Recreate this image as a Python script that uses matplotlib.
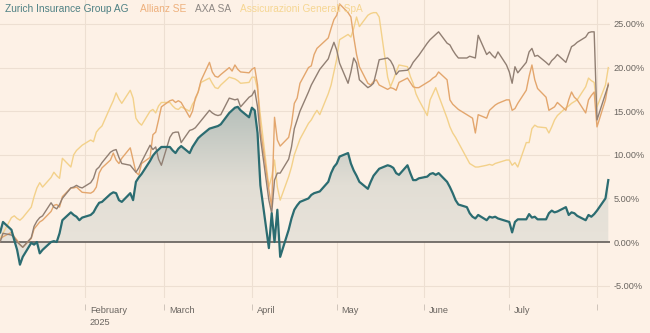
import numpy as np
import pandas as pd
import matplotlib
matplotlib.use("Agg")
import matplotlib.pyplot as plt
import matplotlib.dates as mdates
from matplotlib.colors import LinearSegmentedColormap

plt.rcParams["font.family"] = ["Liberation Sans", "DejaVu Sans"]

# trading days Jan 2 - Aug 5 2025, performance in % since start of year
dates = pd.bdate_range("2025-01-02", "2025-08-05")

zurich = [
    1.1, 2.3, 1.4, 0.2, -0.9, -2.6, -1.7, -0.1, -0.3, 0.0, -1.3, -0.9, 0.0, 0.1, 0.0, 1.0, 2.5, 3.4, 3.1, 2.9, 2.5, 2.8,
    3.1, 3.4, 4.0, 4.5, 4.6, 5.5, 5.7, 5.6, 4.8, 4.6, 5.6, 4.8, 6.9, 7.4, 7.8, 9.3, 9.9, 10.3, 10.6, 10.9,
    10.9, 10.5, 10.2, 10.7, 11.0, 10.2, 10.9, 11.4, 11.9, 12.2, 13.0, 13.1, 13.2, 13.3, 13.5, 14.8, 15.1, 15.4, 15.5, 15.1, 14.3,
    15.4, 15.1, 12.5, 6.5, -0.7, 3.3, 0.0, 3.7, -1.7, 1.4, 2.7, 3.7, 4.2, 4.6, 5.0, 5.4, 5.6, 5.7, 5.8, 6.9, 7.9, 8.6,
    9.0, 9.8, 10.2, 9.0, 8.2, 7.6, 6.9, 6.1, 6.9, 7.6, 8.0, 8.4, 8.8, 8.7, 8.5, 7.9, 7.7, 8.8, 7.9, 7.1, 7.1, 7.3,
    7.5, 7.8, 7.9, 7.7, 7.9, 6.9, 6.3, 5.6, 4.8, 4.3, 4.0, 3.3, 2.9, 2.7, 3.1, 2.5, 2.9, 2.8, 2.9, 2.7, 2.4,
    2.3, 1.1, 2.3, 2.6, 2.6, 3.2, 2.8, 2.9, 2.6, 2.6, 3.3, 3.6, 3.4, 3.5, 4.0, 3.1, 3.4, 3.3, 3.0, 2.5, 3.1, 2.9, 3.2,
    3.6, 5.0, 7.1,
]
allianz = [
    0.3, 0.6, 1.1, 0.6, 0.2, -0.3, -0.6, 0.4, 1.5, 1.9, 2.3, 2.5, 3.5, 4.2, 4.3, 4.0, 5.2, 6.2, 6.2, 6.3, 6.0, 5.7,
    5.6, 5.8, 6.3, 7.9, 8.5, 9.4, 10.2, 9.4, 9.0, 9.6, 10.8, 9.4, 8.0, 7.7, 9.0, 9.7, 12.3, 12.6, 14.0, 15.5,
    16.2, 16.3, 16.0, 16.2, 16.0, 14.3, 15.0, 16.5, 17.2, 18.5, 20.6, 19.5, 19.0, 18.9, 19.2, 20.0, 19.6, 20.3, 19.8, 19.5, 19.4,
    19.8, 20.0, 18.0, 13.0, 6.0, 4.0, 14.3, 11.7, 11.0, 12.0, 13.5, 15.9, 16.5, 18.2, 20.0, 20.2, 21.5, 22.2, 22.5, 23.4, 24.5, 25.5,
    26.0, 27.3, 26.3, 25.8, 23.5, 21.5, 20.1, 18.2, 18.0, 18.4, 18.6, 18.0, 17.5, 17.7, 17.6, 17.4, 18.3, 18.8, 18.3, 17.8, 17.7, 17.7,
    18.3, 18.5, 18.8, 19.0, 19.5, 18.6, 16.3, 15.8, 15.5, 15.2, 14.6, 14.4, 14.2, 12.5, 14.6, 14.2, 15.1, 15.4, 15.7, 15.9, 16.3,
    16.3, 15.1, 15.3, 15.9, 17.4, 19.0, 20.3, 18.6, 17.6, 16.6, 15.1, 15.3, 15.5, 16.0, 15.1, 16.3, 17.2, 16.6, 16.3, 14.8, 16.3, 16.8, 17.2,
    13.2, 16.3, 18.2,
]
axa = [
    0.0, 1.0, 0.8, 0.5, 0.0, -0.3, -0.6, 0.5, 1.8, 2.4, 2.8, 3.0, 4.5, 4.0, 3.8, 4.3, 5.0, 6.2, 6.3, 6.5, 6.3, 6.2,
    6.8, 7.3, 8.3, 8.6, 9.1, 10.3, 10.5, 10.6, 9.7, 9.0, 8.8, 8.4, 8.0, 8.5, 9.2, 11.1, 10.6, 10.9, 9.5, 8.8,
    12.0, 12.5, 12.6, 12.6, 11.4, 12.8, 12.9, 13.1, 13.5, 13.9, 15.1, 14.8, 14.6, 14.5, 14.6, 16.5, 16.4, 16.3, 16.4, 15.5, 16.6,
    16.8, 17.4, 15.5, 12.0, 4.8, 3.3, 7.1, 7.9, 7.9, 9.5, 10.9, 13.0, 14.0, 15.0, 17.2, 18.0, 18.6, 19.2, 19.8, 21.0, 22.0, 22.9,
    22.0, 20.5, 18.2, 19.5, 21.1, 20.5, 18.6, 17.7, 17.9, 18.2, 19.5, 20.9, 21.1, 20.8, 20.2, 19.2, 19.6, 19.7, 20.0, 20.6, 21.0, 21.4,
    22.8, 23.2, 23.5, 23.8, 24.1, 22.8, 22.6, 22.0, 21.5, 21.1, 21.1, 21.3, 21.2, 21.1, 23.7, 21.5, 21.8, 21.4, 21.1, 21.8, 20.3,
    19.5, 18.2, 20.1, 19.4, 20.6, 21.8, 22.2, 21.3, 21.4, 20.6, 20.3, 20.8, 21.1, 21.5, 20.6, 21.5, 22.4, 22.6, 22.9, 23.5, 24.0, 24.1, 24.1,
    14.0, 17.0, 18.0,
]
generali = [
    0.4, 1.0, 2.8, 3.0, 2.7, 2.5, 2.8, 4.0, 5.2, 6.2, 6.8, 6.3, 7.4, 8.0, 7.6, 7.3, 9.6, 8.6, 10.0, 10.5, 10.8, 11.1,
    11.7, 11.5, 12.6, 13.0, 13.3, 15.5, 16.2, 17.1, 16.4, 15.9, 17.4, 16.5, 14.2, 13.7, 13.4, 15.0, 15.2, 14.8, 15.6, 16.0,
    16.0, 15.6, 15.3, 15.2, 15.5, 15.0, 15.8, 16.3, 17.2, 18.3, 18.8, 18.2, 17.7, 17.6, 18.0, 18.9, 18.8, 18.7, 18.5, 18.2, 18.3,
    18.9, 18.9, 17.5, 14.5, 6.3, 7.5, 9.4, 6.3, 4.8, 7.5, 8.6, 10.0, 10.9, 11.8, 13.6, 14.0, 14.6, 15.1, 14.6, 17.0, 18.0, 19.5,
    21.0, 23.2, 23.8, 23.5, 24.5, 25.8, 24.7, 26.0, 26.2, 26.3, 26.3, 25.8, 18.9, 17.8, 18.6, 19.5, 20.3, 20.1, 19.0, 18.2, 17.0, 16.3,
    14.5, 16.3, 17.0, 17.7, 16.8, 14.2, 13.2, 12.5, 12.0, 11.4, 9.6, 9.0, 8.8, 8.6, 8.6, 8.8, 8.9, 8.8, 9.0, 9.1, 9.4,
    9.4, 8.8, 9.1, 8.6, 11.4, 11.4, 13.0, 13.4, 13.2, 13.1, 12.5, 13.2, 14.0, 14.5, 15.4, 15.6, 15.9, 16.1, 16.3, 17.8, 18.8, 18.5, 18.3,
    15.5, 18.0, 20.0,
]

names = ["Zurich Insurance Group AG", "Allianz SE", "AXA SA", "Assicurazioni Generali SpA"]
colors = ["#2b6c71", "#e3a66d", "#917f73", "#f3d18a"]
label_colors = ["#4f8184", "#eeb07c", "#8e8884", "#f6d692"]

yticks = [-5, 0, 5, 10, 15, 20, 25]
month_starts = pd.date_range("2025-02-01", "2025-08-01", freq="MS")
month_labels = ["February\n2025", "March", "April", "May", "June", "July", ""]

bg = "#fdf1e6"
grid = "#eddfd2"
text_col = "#6b6661"

fig = plt.figure(figsize=(6.5, 3.33), dpi=100, facecolor=bg)
ax = fig.add_axes([0, 1 - 298 / 333, 610 / 650, 298 / 333])
ax.set_facecolor(bg)

x0 = pd.Timestamp("2025-01-01") + pd.Timedelta(days=0.95)
x1 = pd.Timestamp("2025-01-01") + pd.Timedelta(days=216.6)

# gradient area under Zurich
poly = ax.fill_between(dates, zurich, 0, color="none", lw=0)
cmap = LinearSegmentedColormap.from_list("zfill", ["#ebe5dc", "#e2ded5", "#b4beb9"])
grad = np.linspace(0, 1, 256).reshape(-1, 1)
im = ax.imshow(grad, extent=[mdates.date2num(x0), mdates.date2num(x1), -3, 16],
               origin="lower", aspect="auto", cmap=cmap, zorder=1)
im.set_clip_path(poly.get_paths()[0], transform=ax.transData)

for d in month_starts:
    ax.axvline(d, color=grid, lw=0.8, zorder=0)
for v in yticks:
    if v != 0:
        ax.axhline(v, color=grid, lw=0.8, zorder=0)
ax.axhline(0, color="#625d59", lw=1.2, zorder=2)

ax.plot(dates, generali, color=colors[3], lw=1.0, zorder=3)
ax.plot(dates, allianz, color=colors[1], lw=1.0, zorder=4)
ax.plot(dates, axa, color=colors[2], lw=1.0, zorder=5)
ax.plot(dates, zurich, color=colors[0], lw=1.6, zorder=6)

ax.set_xlim(x0, x1)
ax.set_ylim(-6.42, 27.75)

ax.yaxis.tick_right()
ax.set_yticks(yticks)
ax.set_yticklabels([f"{v:.2f}%" for v in yticks])
ax.tick_params(axis="y", length=0, pad=2.5, labelsize=6.6, labelcolor=text_col)

ax.set_xticks(month_starts)
ax.set_xticklabels([])
ax.tick_params(axis="x", length=4, width=0.7, color="#cfc4ba", direction="out")
for side in ["top", "right", "left"]:
    ax.spines[side].set_visible(False)
ax.spines["bottom"].set_position(("outward", 4))
ax.spines["bottom"].set_visible(False)

for d, lab in zip(month_starts, month_labels):
    ax.annotate(lab, xy=(d, 0), xycoords=("data", "axes fraction"),
                xytext=(3.5, -6), textcoords="offset points",
                ha="left", va="top", fontsize=6.7, color=text_col, linespacing=1.35)

lx = [5, 140, 195, 240]
for x, name, c in zip(lx, names, label_colors):
    fig.text(x / 650, 1 - 9 / 333, name, color=c, fontsize=7.3, va="center", ha="left")

plt.savefig("out.png", dpi=100, facecolor=bg)
